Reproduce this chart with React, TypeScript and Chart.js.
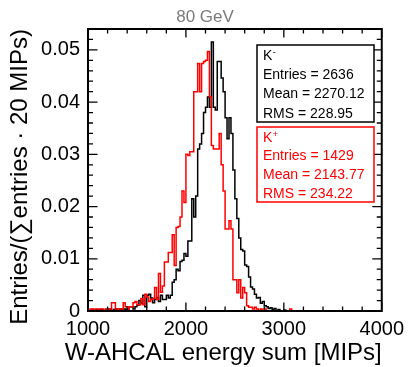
import React, { useEffect, useRef } from 'react';
import { Chart, registerables } from 'chart.js';
Chart.register(...registerables);

const FONT = '"Liberation Sans", Arial, Helvetica, sans-serif';

const binStart = 1000;
const binWidth = 20;

// K- (black) normalised bin contents, bins of 20 MIPs starting at 1000
const kMinusValues = [
  0, 0, 0.0003, 0, 0.0003, 0, 0.0003, 0.0003, 0, 0.0003,
  0.0004, 0.0004, 0, 0.0003, 0.0004, 0, 0.0004, 0.0003, 0.0004, 0.0003,
  0.0004, 0.0008, 0.0008, 0.0004, 0.0008, 0.0011, 0.002, 0.0015, 0.003, 0.0008,
  0.003, 0.0032, 0.0025, 0.0016, 0.0022, 0.0026, 0.0018, 0.003, 0.0022, 0.0022,
  0.003, 0.0025, 0.003, 0.0055, 0.006, 0.008, 0.0077, 0.0095, 0.0097, 0.011,
  0.0105, 0.0134, 0.0134, 0.0215, 0.018, 0.022, 0.031, 0.032, 0.034, 0.038,
  0.039, 0.041, 0.039, 0.0515, 0.039, 0.0385, 0.0478, 0.0478, 0.0446, 0.042,
  0.037, 0.033, 0.037, 0.034, 0.027, 0.0215, 0.0177, 0.014, 0.0118, 0.0115,
  0.0088, 0.0085, 0.0065, 0.0046, 0.0042, 0.0032, 0.0025, 0.0026, 0.0015, 0.0018,
  0.001, 0.0008, 0.0005, 0.0006, 0.0003, 0.0005, 0, 0.0003, 0, 0,
  0.0002, 0, 0, 0, 0,
];

// K+ (red) normalised bin contents
const kPlusValues = [
  0, 0.0004, 0.0004, 0, 0.0004, 0.0004, 0.0004, 0.0004, 0, 0.0004,
  0, 0.0004, 0.0016, 0.0016, 0.0004, 0.0004, 0.0004, 0.0004, 0.0016, 0.0008,
  0.0004, 0.0008, 0.0008, 0.0016, 0.0018, 0.0012, 0.0012, 0.0024, 0.0012, 0.0032,
  0.0027, 0.0018, 0.0022, 0.0024, 0.0045, 0.0022, 0.0072, 0.0036, 0.0048, 0.0094,
  0.0094, 0.0112, 0.0112, 0.0146, 0.0087, 0.016, 0.0162, 0.018, 0.023, 0.0208,
  0.03, 0.0298, 0.0305, 0.0305, 0.042, 0.042, 0.0474, 0.042, 0.0474, 0.0478,
  0.048, 0.0497, 0.041, 0.0317, 0.031, 0.031, 0.031, 0.034, 0.028, 0.023,
  0.0157, 0.0157, 0.0173, 0.0157, 0.006, 0.006, 0.0035, 0.006, 0.0025, 0.0045,
  0.0035, 0.001, 0.0007, 0.0007, 0.0004, 0.0007, 0.0004, 0, 0.0004, 0,
  0.0004, 0, 0, 0, 0, 0, 0, 0, 0, 0,
  0, 0, 0, 0.0004, 0,
];

const xMin = 1000;
const xMax = 4000;
const yMin = 0;
const yMax = 0.054;
const xTicks = [1000, 2000, 3000, 4000];
const xTickLabels = ['1000', '2000', '3000', '4000'];
const yTicks = [0, 0.01, 0.02, 0.03, 0.04, 0.05];
const yTickLabels = ['0', '0.01', '0.02', '0.03', '0.04', '0.05'];
const xMinorStep = 200;
const yMinorStep = 0.002;

const title = '80 GeV';
const xTitle = 'W-AHCAL energy sum [MIPs]';
const yTitle = 'Entries/(\u2211entries \u00b7 20 MIPs)';
const statsMinusName = ['K', '-'];
const statsPlusName = ['K', '+'];
const statsMinus = ['Entries = 2636', 'Mean = 2270.12', 'RMS = 228.95'];
const statsPlus = ['Entries = 1429', 'Mean = 2143.77', 'RMS = 234.22'];

function toSteps(values: number[]) {
  const pts = values.map((v, i) => ({ x: binStart + i * binWidth, y: v }));
  pts.push({ x: binStart + values.length * binWidth, y: 0 });
  pts.push({ x: xMax, y: 0 });
  return pts;
}

const framePlugin = {
  id: 'rootFrame',
  afterDraw(chart: any) {
    const { ctx, chartArea } = chart;
    const { left, right, top, bottom } = chartArea;
    const xs = chart.scales.x;
    const ys = chart.scales.y;
    ctx.save();
    // ticks
    ctx.strokeStyle = '#000';
    ctx.lineWidth = 1.3;
    ctx.beginPath();
    const nx = Math.round((xMax - xMin) / xMinorStep);
    for (let i = 0; i <= nx; i++) {
      const v = xMin + i * xMinorStep;
      const px = xs.getPixelForValue(v);
      const len = i % 5 === 0 ? 8.5 : 4.5;
      ctx.moveTo(px, bottom);
      ctx.lineTo(px, bottom - len);
      ctx.moveTo(px, top);
      ctx.lineTo(px, top + len);
    }
    const ny = Math.floor((yMax - yMin) / yMinorStep + 1e-6);
    for (let i = 0; i <= ny; i++) {
      const v = yMin + i * yMinorStep;
      const py = ys.getPixelForValue(v);
      const len = i % 5 === 0 ? 9.5 : 5;
      ctx.moveTo(left, py);
      ctx.lineTo(left + len, py);
      ctx.moveTo(right, py);
      ctx.lineTo(right - len, py);
    }
    ctx.stroke();
    // frame
    ctx.lineWidth = 2;
    ctx.strokeRect(left, top, right - left, bottom - top);

    // title
    ctx.fillStyle = '#7a7a7a';
    ctx.font = '17px ' + FONT;
    ctx.textAlign = 'center';
    ctx.textBaseline = 'alphabetic';
    ctx.fillText(title, 205, 22);

    // x title
    ctx.fillStyle = '#000';
    ctx.font = '24px ' + FONT;
    ctx.textAlign = 'right';
    ctx.fillText(xTitle, right, 360);

    // y title
    ctx.save();
    ctx.translate(27, top);
    ctx.rotate(-Math.PI / 2);
    ctx.textAlign = 'right';
    ctx.textBaseline = 'alphabetic';
    ctx.fillText(yTitle, 0, 0);
    ctx.restore();

    // stats boxes
    const drawBox = (y0: number, h: number, color: string, name: string[], lines: string[], baselines: number[]) => {
      const bx = 257;
      const bw = 117;
      ctx.fillStyle = '#fff';
      ctx.fillRect(bx, y0, bw, h);
      ctx.strokeStyle = color;
      ctx.lineWidth = 1.5;
      ctx.strokeRect(bx, y0, bw, h);
      ctx.fillStyle = color;
      ctx.textAlign = 'left';
      ctx.textBaseline = 'alphabetic';
      ctx.font = '14px ' + FONT;
      ctx.fillText(name[0], 263, baselines[0]);
      const kw = ctx.measureText(name[0]).width;
      ctx.font = '9px ' + FONT;
      ctx.fillText(name[1], 263 + kw + 0.5, baselines[0] - 5);
      ctx.font = '14px ' + FONT;
      lines.forEach((t, i) => ctx.fillText(t, 263, baselines[i + 1]));
    };
    drawBox(45, 77, '#000', statsMinusName, statsMinus, [60, 79, 98, 118]);
    drawBox(127, 75, '#ff0000', statsPlusName, statsPlus, [142, 160, 179, 198]);
    ctx.restore();
  },
};

export default function App() {
  const ref = useRef<HTMLCanvasElement | null>(null);
  useEffect(() => {
    document.body.style.margin = '0';
    const canvas = ref.current;
    if (!canvas) return;
    const chart = new Chart(canvas, {
      type: 'line',
      data: {
        datasets: [
          {
            label: 'K-',
            data: toSteps(kMinusValues),
            borderColor: '#000000',
            borderWidth: 1.5,
            stepped: true,
            pointRadius: 0,
            fill: false,
            order: 1,
          },
          {
            label: 'K+',
            data: toSteps(kPlusValues),
            borderColor: '#ff0000',
            borderWidth: 1.5,
            stepped: true,
            pointRadius: 0,
            fill: false,
            order: 0,
          },
        ],
      },
      options: {
        animation: false,
        responsive: false,
        devicePixelRatio: 1,
        layout: { padding: { top: 29, right: 24, left: 0, bottom: 0 } },
        plugins: { legend: { display: false }, tooltip: { enabled: false }, title: { display: false } },
        scales: {
          x: {
            type: 'linear',
            min: xMin,
            max: xMax,
            afterBuildTicks: (s: any) => {
              s.ticks = xTicks.map((v) => ({ value: v }));
            },
            afterFit: (s: any) => {
              s.height = 56;
            },
            grid: { display: false, drawTicks: false },
            border: { display: false },
            ticks: {
              autoSkip: false,
              maxRotation: 0,
              padding: 6,
              color: '#000',
              font: { family: FONT, size: 20 },
              callback: (v: any) => {
                const i = xTicks.indexOf(Number(v));
                return i >= 0 ? xTickLabels[i] : '';
              },
            },
          },
          y: {
            type: 'linear',
            min: yMin,
            max: yMax,
            afterBuildTicks: (s: any) => {
              s.ticks = yTicks.map((v) => ({ value: v }));
            },
            afterFit: (s: any) => {
              s.width = 88;
            },
            grid: { display: false, drawTicks: false },
            border: { display: false },
            ticks: {
              autoSkip: false,
              padding: 8,
              color: '#000',
              font: { family: FONT, size: 20 },
              callback: (v: any) => {
                const i = yTicks.findIndex((t) => Math.abs(t - Number(v)) < 1e-9);
                return i >= 0 ? yTickLabels[i] : '';
              },
            },
          },
        },
      },
      plugins: [framePlugin],
    } as any);
    return () => chart.destroy();
  }, []);
  return <canvas ref={ref} width={410} height={367} style={{ display: 'block', width: 410, height: 367 }} />;
}
